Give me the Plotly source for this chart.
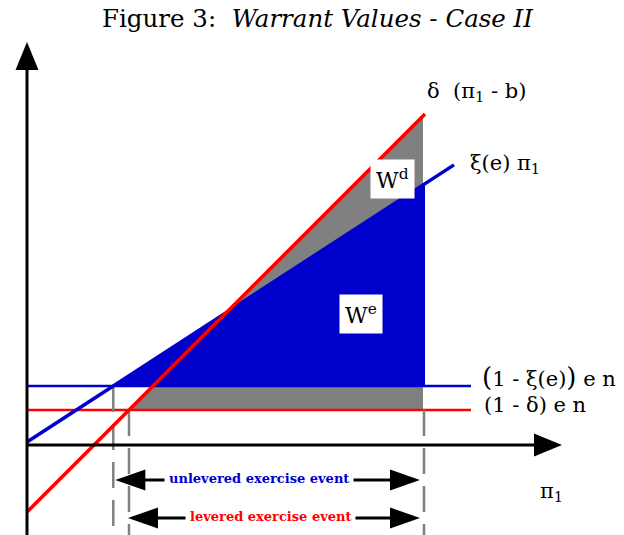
import plotly.graph_objects as go

# ---- model parameters (plot units: 1 unit = 1 px, origin at axes crossing) ----
xi = 0.649            # slope of xi(e) * pi1
xi_offset = 3.0
delta = 1.0           # slope of delta * (pi1 - b)
b = 67.0
unlev_level = 59.0    # (1 - xi(e)) e n
lev_level = 35.0      # (1 - delta) e n
pi_cut = 396.0        # upper end of both exercise events
blue_end = 427.0
red_end = 398.0
hline_end = 444.0

# view extents
x_left, x_right = -27.0, 597.0
y_bottom, y_top = -90.0, 445.0
x_tip = 535.0
y_tip = 403.0

BLUE = "#0000CC"
RED = "#FF0000"
GRAY = "#808080"
SERIF = "DejaVu Serif"


def blue_line(p):
    return xi * p + xi_offset


def red_line(p):
    return delta * (p - b)


# key crossings
p_unlev = (unlev_level - xi_offset) / xi          # xi line meets unlevered level
p_lev = lev_level / delta + b                     # delta line meets levered level
p_mid = unlev_level / delta + b                   # delta line meets unlevered level
p_cross = (xi_offset + delta * b) / (delta - xi)  # two payoff lines cross
y_cross = blue_line(p_cross)

fig = go.Figure()

# W^e : area between unlevered level and xi line
fig.add_trace(go.Scatter(
    x=[p_unlev, pi_cut + 2, pi_cut + 2, p_unlev],
    y=[unlev_level, blue_line(pi_cut + 2), unlev_level, unlev_level],
    fill="toself", fillcolor=BLUE, line=dict(width=0), mode="lines",
    hoverinfo="skip"))

# W^d : area between the two payoff lines
fig.add_trace(go.Scatter(
    x=[p_cross, pi_cut, pi_cut, p_cross],
    y=[y_cross, red_line(pi_cut), blue_line(pi_cut), y_cross],
    fill="toself", fillcolor=GRAY, line=dict(width=0), mode="lines",
    hoverinfo="skip"))

# band between the two levels
fig.add_trace(go.Scatter(
    x=[p_lev, p_mid, pi_cut, pi_cut, p_lev],
    y=[lev_level, unlev_level, unlev_level, lev_level, lev_level],
    fill="toself", fillcolor=GRAY, line=dict(width=0), mode="lines",
    hoverinfo="skip"))

# horizontal levels
fig.add_trace(go.Scatter(x=[0, hline_end], y=[unlev_level, unlev_level],
                         mode="lines", line=dict(color=BLUE, width=2.5),
                         hoverinfo="skip"))
fig.add_trace(go.Scatter(x=[0, hline_end], y=[lev_level, lev_level],
                         mode="lines", line=dict(color=RED, width=2.5),
                         hoverinfo="skip"))

# dashed drop lines
for px, py in [(p_unlev, unlev_level), (p_lev, lev_level), (pi_cut + 1, lev_level)]:
    fig.add_trace(go.Scatter(x=[px, px], y=[py, y_bottom], mode="lines",
                             line=dict(color=GRAY, width=2.5, dash="26px,12px"),
                             hoverinfo="skip"))

# payoff lines
fig.add_trace(go.Scatter(x=[0, blue_end], y=[blue_line(0), blue_line(blue_end)],
                         mode="lines", line=dict(color=BLUE, width=3.5),
                         hoverinfo="skip"))
fig.add_trace(go.Scatter(x=[0, red_end], y=[red_line(0), red_line(red_end)],
                         mode="lines", line=dict(color=RED, width=3.5),
                         hoverinfo="skip"))

shapes = []
# axes
head_len, head_half = 28.0, 11.5
shapes.append(dict(type="line", x0=0, x1=0, y0=y_bottom, y1=y_tip - head_len,
                   line=dict(color="black", width=3)))
shapes.append(dict(type="line", x0=0, x1=x_tip - head_len, y0=0, y1=0,
                   line=dict(color="black", width=3)))
shapes.append(dict(type="path", fillcolor="black", line=dict(width=0),
                   path=f"M {-head_half},{y_tip - head_len} L {head_half},{y_tip - head_len} L 0,{y_tip} Z"))
shapes.append(dict(type="path", fillcolor="black", line=dict(width=0),
                   path=f"M {x_tip - head_len},{-head_half} L {x_tip - head_len},{head_half} L {x_tip},0 Z"))

# exercise-event range arrows
ev_len, ev_half = 30.0, 10.5
events = [
    ("unlevered exercise event", BLUE, p_unlev + 2, pi_cut - 3, -35.0, 232.0),
    ("levered exercise event", RED, p_lev - 1, pi_cut - 3, -73.0, 243.0),
]
annotations = []
for label, color, xa, xb, yv, xt in events:
    shapes.append(dict(type="line", x0=xa + ev_len - 2, x1=xb - ev_len + 2, y0=yv, y1=yv,
                       line=dict(color="black", width=3)))
    shapes.append(dict(type="path", fillcolor="black", line=dict(width=0),
                       path=f"M {xa},{yv} L {xa + ev_len},{yv + ev_half} L {xa + ev_len},{yv - ev_half} Z"))
    shapes.append(dict(type="path", fillcolor="black", line=dict(width=0),
                       path=f"M {xb},{yv} L {xb - ev_len},{yv + ev_half} L {xb - ev_len},{yv - ev_half} Z"))
    annotations.append(dict(x=xt, y=yv + 2, text=f"<b>{label}</b>",
                            showarrow=False, bgcolor="white", borderpad=4,
                            font=dict(family=SERIF, size=13, color=color),
                            xanchor="center", yanchor="middle"))

big = '<span style="font-size:26px">{}</span>'
text_font = dict(family=SERIF, size=21, color="black")
labels = [
    (398, 353, "δ\u00a0\u00a0(π<sub>1</sub> - b)", "left"),
    (441, 281, "ξ(e) π<sub>1</sub>", "left"),
    (453, 68, big.format("(") + "1 - ξ(e)" + big.format(")") + " e n", "left"),
    (455, 40, "(1 - δ) e n", "left"),
    (511, -47, "π<sub>1</sub>", "left"),
]
for x, y, t, anchor in labels:
    annotations.append(dict(x=x, y=y, text=t, showarrow=False, font=text_font,
                            xanchor=anchor, yanchor="middle"))

# region labels in white boxes
for x, y, t in [(365, 266, "W<sup>d</sup>"), (334, 131, "W<sup>e</sup>")]:
    annotations.append(dict(x=x, y=y, text=t, showarrow=False, bgcolor="white",
                            borderpad=5, font=dict(family=SERIF, size=22, color="black"),
                            xanchor="center", yanchor="middle"))

# title
annotations.append(dict(x=0.51, xref="paper", y=427, yref="y",
                        text="Figure 3:\u00a0\u00a0<i>Warrant Values - Case II</i>",
                        showarrow=False, font=dict(family=SERIF, size=24.5, color="black"),
                        xanchor="center", yanchor="middle"))

fig.update_layout(
    width=624, height=535,
    margin=dict(l=0, r=0, t=0, b=0),
    paper_bgcolor="white", plot_bgcolor="white",
    showlegend=False,
    xaxis=dict(range=[x_left, x_right], visible=False, fixedrange=True),
    yaxis=dict(range=[y_bottom, y_top], visible=False, fixedrange=True),
    shapes=shapes,
    annotations=annotations,
)

fig.write_html("out.html")
